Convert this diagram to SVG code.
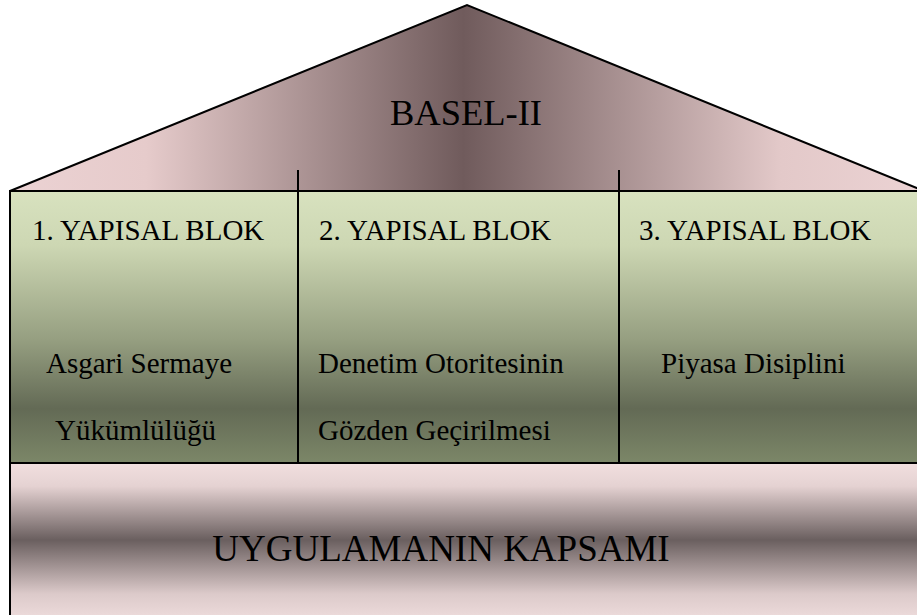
<svg xmlns="http://www.w3.org/2000/svg" width="917" height="615" viewBox="0 0 917 615">
<style>
.ln{stroke:#000;stroke-width:2;fill:none}
text{font-family:'Liberation Serif','DejaVu Serif',serif;fill:#000}
.h{font-size:29px}
.b{font-size:29px}
</style>
<defs>
<linearGradient id="roof" x1="10" y1="0" x2="917" y2="0" gradientUnits="userSpaceOnUse">
<stop offset="0" stop-color="#ebd2d3"/>
<stop offset="0.15" stop-color="#e6cbcb"/>
<stop offset="0.5" stop-color="#705b5c"/>
<stop offset="0.85" stop-color="#e3c9c9"/>
<stop offset="1" stop-color="#ebd2d3"/>
</linearGradient>
<linearGradient id="green" x1="0" y1="191" x2="0" y2="463" gradientUnits="userSpaceOnUse">
<stop offset="0" stop-color="#d8e2bf"/>
<stop offset="0.2" stop-color="#cdd7b3"/>
<stop offset="0.55" stop-color="#959e80"/>
<stop offset="0.8" stop-color="#636a55"/>
<stop offset="1" stop-color="#7c8768"/>
</linearGradient>
<linearGradient id="base" x1="0" y1="463" x2="0" y2="617" gradientUnits="userSpaceOnUse">
<stop offset="0" stop-color="#f1dfdf"/>
<stop offset="0.15" stop-color="#e5d2d2"/>
<stop offset="0.5" stop-color="#6a5f5f"/>
<stop offset="0.85" stop-color="#dccaca"/>
<stop offset="1" stop-color="#ecdada"/>
</linearGradient>
</defs>
<g id="roof-node">
<polygon points="10,191 467,5 924,191" style="fill:url(#roof);stroke:#000;stroke-width:2"/>
<text x="466" y="125" font-size="36.5" text-anchor="middle">BASEL-II</text>
</g>
<g id="blocks">
<rect x="10" y="191" width="912" height="272" fill="url(#green)" stroke="#000" stroke-width="2"/>
</g>
<g id="block1">
<text class="h" x="32" y="240">1. YAPISAL BLOK</text>
<text class="b" x="46" y="373">Asgari Sermaye</text>
<text class="b" x="55" y="440">Yükümlülüğü</text>
</g>
<g id="block2">
<text class="h" x="319" y="240">2. YAPISAL BLOK</text>
<text class="b" x="318" y="373">Denetim Otoritesinin</text>
<text class="b" x="318" y="440">Gözden Geçirilmesi</text>
</g>
<g id="block3">
<text class="h" x="639" y="240">3. YAPISAL BLOK</text>
<text class="b" x="661" y="373">Piyasa Disiplini</text>
</g>
<g id="foundation">
<rect x="10" y="463" width="912" height="160" fill="url(#base)" stroke="#000" stroke-width="2"/>
<text x="441" y="561" font-size="37" text-anchor="middle">UYGULAMANIN KAPSAMI</text>
</g>
<g id="connectors">
<line class="ln" x1="298" y1="170" x2="298" y2="463"/>
<line class="ln" x1="619" y1="170" x2="619" y2="463"/>
</g>
</svg>
